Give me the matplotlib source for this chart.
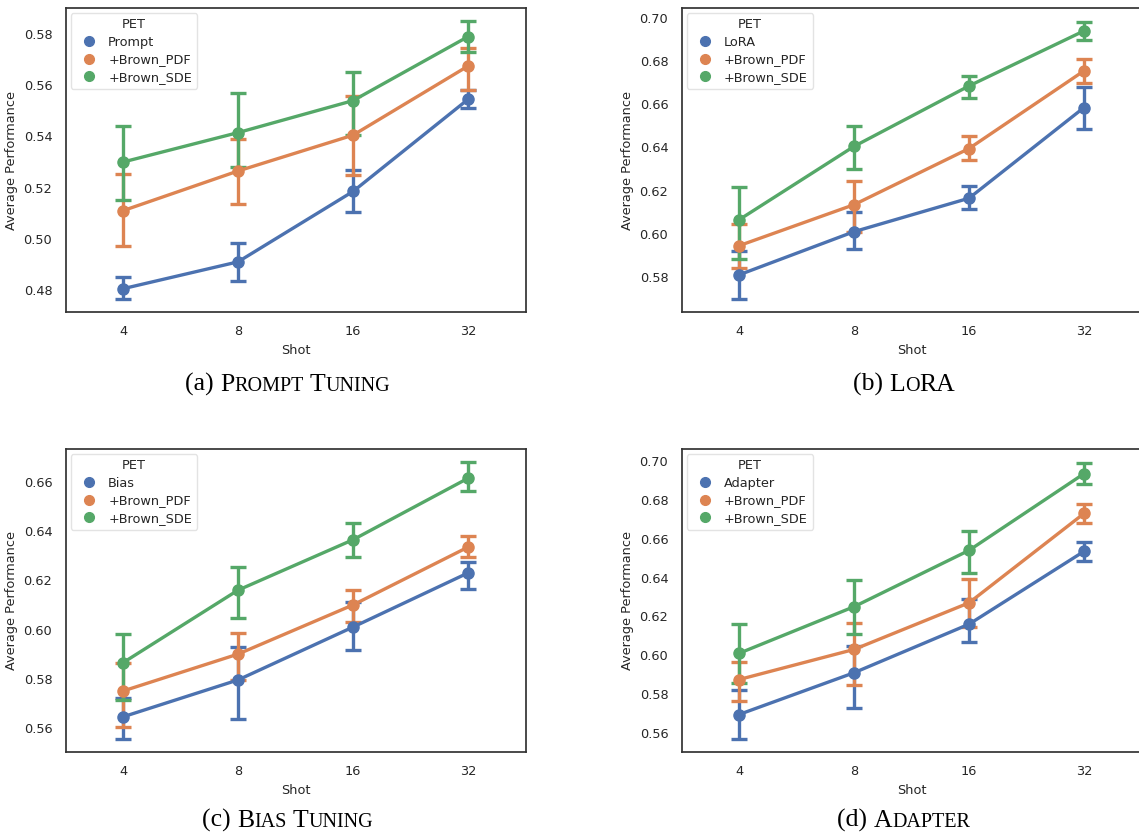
import matplotlib
matplotlib.use("Agg")
import matplotlib.pyplot as plt
from matplotlib.lines import Line2D
import seaborn as sns
import numpy as np

# ---------------- data ----------------
shots = ["4", "8", "16", "32"]
variants = ["+Brown_PDF", "+Brown_SDE"]

# (a) Prompt Tuning
prompt_mean = [0.4805, 0.4910, 0.5185, 0.5545]
prompt_lo = [0.4765, 0.4835, 0.5105, 0.5510]
prompt_hi = [0.4850, 0.4985, 0.5270, 0.5580]
prompt_pdf_mean = [0.5110, 0.5265, 0.5405, 0.5675]
prompt_pdf_lo = [0.4970, 0.5135, 0.5250, 0.5580]
prompt_pdf_hi = [0.5255, 0.5390, 0.5560, 0.5745]
prompt_sde_mean = [0.5300, 0.5415, 0.5540, 0.5790]
prompt_sde_lo = [0.5150, 0.5280, 0.5405, 0.5730]
prompt_sde_hi = [0.5440, 0.5570, 0.5650, 0.5850]

# (b) LoRA
lora_mean = [0.5810, 0.6010, 0.6165, 0.6585]
lora_lo = [0.5700, 0.5930, 0.6115, 0.6485]
lora_hi = [0.5920, 0.6100, 0.6220, 0.6680]
lora_pdf_mean = [0.5945, 0.6135, 0.6395, 0.6755]
lora_pdf_lo = [0.5840, 0.6010, 0.6340, 0.6700]
lora_pdf_hi = [0.6045, 0.6245, 0.6455, 0.6810]
lora_sde_mean = [0.6065, 0.6405, 0.6685, 0.6940]
lora_sde_lo = [0.5885, 0.6300, 0.6630, 0.6900]
lora_sde_hi = [0.6215, 0.6500, 0.6730, 0.6980]

# (c) Bias Tuning
bias_mean = [0.5645, 0.5795, 0.6010, 0.6230]
bias_lo = [0.5555, 0.5635, 0.5915, 0.6165]
bias_hi = [0.5720, 0.5930, 0.6110, 0.6275]
bias_pdf_mean = [0.5750, 0.5900, 0.6100, 0.6335]
bias_pdf_lo = [0.5605, 0.5795, 0.6030, 0.6295]
bias_pdf_hi = [0.5865, 0.5985, 0.6160, 0.6380]
bias_sde_mean = [0.5865, 0.6160, 0.6365, 0.6615]
bias_sde_lo = [0.5715, 0.6045, 0.6295, 0.6565]
bias_sde_hi = [0.5980, 0.6255, 0.6435, 0.6680]

# (d) Adapter
adapter_mean = [0.5695, 0.5910, 0.6160, 0.6535]
adapter_lo = [0.5570, 0.5730, 0.6070, 0.6485]
adapter_hi = [0.5820, 0.6050, 0.6290, 0.6585]
adapter_pdf_mean = [0.5875, 0.6030, 0.6270, 0.6730]
adapter_pdf_lo = [0.5765, 0.5845, 0.6145, 0.6680]
adapter_pdf_hi = [0.5965, 0.6165, 0.6395, 0.6780]
adapter_sde_mean = [0.6010, 0.6250, 0.6540, 0.6935]
adapter_sde_lo = [0.5855, 0.6110, 0.6425, 0.6880]
adapter_sde_hi = [0.6160, 0.6385, 0.6640, 0.6990]

panels = [
    dict(base="Prompt",
         series=[(prompt_mean, prompt_lo, prompt_hi),
                 (prompt_pdf_mean, prompt_pdf_lo, prompt_pdf_hi),
                 (prompt_sde_mean, prompt_sde_lo, prompt_sde_hi)],
         ylim=(0.4714, 0.5902), yticks=[0.48, 0.50, 0.52, 0.54, 0.56, 0.58],
         caption=[("(a) ", False), ("P", False), ("ROMPT", True), (" T", False), ("UNING", True)]),
    dict(base="LoRA",
         series=[(lora_mean, lora_lo, lora_hi),
                 (lora_pdf_mean, lora_pdf_lo, lora_pdf_hi),
                 (lora_sde_mean, lora_sde_lo, lora_sde_hi)],
         ylim=(0.5638, 0.7046), yticks=[0.58, 0.60, 0.62, 0.64, 0.66, 0.68, 0.70],
         caption=[("(b) ", False), ("L", False), ("O", True), ("RA", False)]),
    dict(base="Bias",
         series=[(bias_mean, bias_lo, bias_hi),
                 (bias_pdf_mean, bias_pdf_lo, bias_pdf_hi),
                 (bias_sde_mean, bias_sde_lo, bias_sde_hi)],
         ylim=(0.5502, 0.6734), yticks=[0.56, 0.58, 0.60, 0.62, 0.64, 0.66],
         caption=[("(c) ", False), ("B", False), ("IAS", True), (" T", False), ("UNING", True)]),
    dict(base="Adapter",
         series=[(adapter_mean, adapter_lo, adapter_hi),
                 (adapter_pdf_mean, adapter_pdf_lo, adapter_pdf_hi),
                 (adapter_sde_mean, adapter_sde_lo, adapter_sde_hi)],
         ylim=(0.5502, 0.7062), yticks=[0.56, 0.58, 0.60, 0.62, 0.64, 0.66, 0.68, 0.70],
         caption=[("(d) ", False), ("A", False), ("DAPTER", True)]),
]

# ---------------- style ----------------
sns.set_theme(style="white")
plt.rcParams['font.family'] = ['DejaVu Sans']
colors = sns.color_palette("deep")[:3]

W, H = 1139, 834
fig = plt.figure(figsize=(W / 100, H / 100), dpi=100)

# axes rectangles in pixels: (left, top, width, height)
rects = [(65.5, 8, 460, 304), (681.5, 8, 460, 304),
         (65.5, 449, 460, 303), (681.5, 449, 460, 303)]
caption_baseline = [391, 827]

FS = 9.3
x = np.arange(len(shots))

for idx, (p, r) in enumerate(zip(panels, rects)):
    l, t, w, h = r
    ax = fig.add_axes([l / W, 1 - (t + h) / H, w / W, h / H])
    names = [p["base"]] + variants
    for (m, lo, hi), c, name in zip(p["series"], colors, names):
        m = np.array(m); lo = np.array(lo); hi = np.array(hi)
        ax.errorbar(x, m, yerr=[m - lo, hi - m], color=c, lw=2.4,
                    marker='o', ms=8, capsize=6, capthick=2.4,
                    elinewidth=2.4, label=name)
    ax.set_xlim(-0.5, 3.5)
    ax.set_ylim(*p["ylim"])
    ax.set_yticks(p["yticks"])
    ax.set_yticklabels([f"{v:.2f}" for v in p["yticks"]], fontsize=FS)
    ax.set_xticks(x)
    ax.set_xticklabels(shots, fontsize=FS)
    ax.set_xlabel("Shot", fontsize=FS)
    ax.set_ylabel("Average Performance", fontsize=FS)
    for s in ax.spines.values():
        s.set_color("#333333")
        s.set_linewidth(1.25)
    handles = [Line2D([], [], marker='o', ls='', color=c, ms=7) for c in colors]
    leg = ax.legend(handles, names, title="PET", loc="upper left",
                    fontsize=FS, title_fontsize=FS, frameon=True,
                    borderaxespad=0.4, handletextpad=0.5, labelspacing=0.35)
    leg.get_frame().set_edgecolor("#dddddd")

# ---------------- captions with small caps ----------------
renderer = fig.canvas.get_renderer()
BIG = 18.5
SMALL = 14.5
cap_centers_x = [288, 904]
for idx, p in enumerate(panels):
    cx = cap_centers_x[idx % 2]
    cy = caption_baseline[idx // 2]
    texts = []
    xpos = 0.0
    for s, small in p["caption"]:
        tt = fig.text(0, 1 - cy / H, s, fontsize=SMALL if small else BIG,
                      family="Liberation Serif", va="baseline", ha="left",
                      color="black")
        bb = tt.get_window_extent(renderer)
        texts.append((tt, xpos))
        xpos += bb.width
    start = cx - xpos / 2
    for tt, off in texts:
        tt.set_position(((start + off) / W, 1 - cy / H))

fig.savefig("out.png", dpi=100)
